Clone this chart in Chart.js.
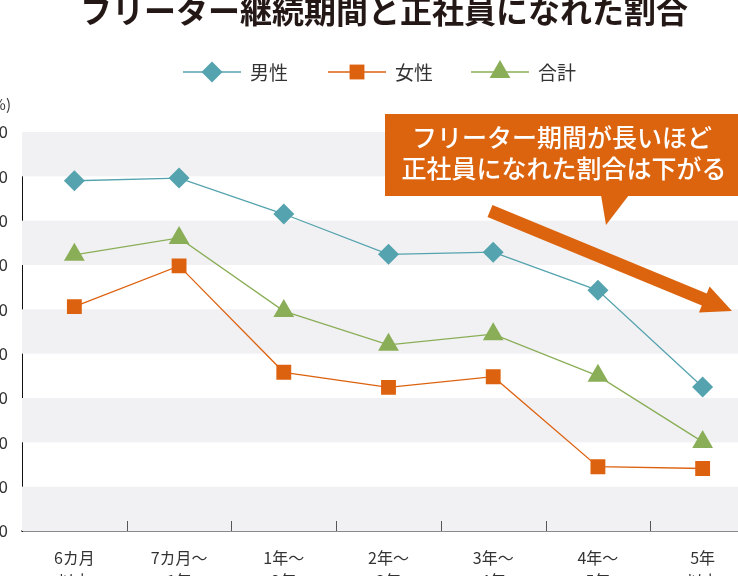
<!DOCTYPE html>
<html>
<head>
<meta charset="utf-8">
<script src="https://cdn.jsdelivr.net/npm/chart.js@4/dist/chart.umd.min.js"></script>
<style>
html, body { margin: 0; padding: 0; background: #fff; overflow: hidden; }
#wrap { position: absolute; left: 0; top: 0; width: 800px; height: 620px; }
</style>
</head>
<body>
<div id="wrap"><canvas id="myChart" width="800" height="620"></canvas></div>
<script>
// categories and values (%)
var periods = [['6カ月', '以内'], ['7カ月〜', '1年'], ['1年〜', '2年'], ['2年〜', '3年'], ['3年〜', '4年'], ['4年〜', '5年'], ['5年', '以上']];
var male = [79.0, 79.6, 71.5, 62.4, 62.9, 54.3, 32.5];
var female = [50.6, 59.8, 35.8, 32.4, 34.8, 14.5, 14.1];
var total = [62.3, 66.1, 49.6, 42.0, 44.4, 35.0, 20.1];
var yTicks = [0, 10, 20, 30, 40, 50, 60, 70, 80, 90];

var FONT = '"Noto Sans CJK JP", "Noto Sans", sans-serif';
var C_MALE = '#55a3ae', C_FEMALE = '#dd620f', C_TOTAL = '#8aae57', C_ORANGE = '#dc640f';

var decor = {
  id: 'decor',
  beforeDatasetsDraw: function(chart) {
    var ctx = chart.ctx, y = chart.scales.y, a = chart.chartArea;
    ctx.save();
    ctx.fillStyle = '#f1f1f3';
    for (var i = 0; i < yTicks.length - 1; i += 2) {
      var t = y.getPixelForValue(yTicks[i + 1]), b = y.getPixelForValue(yTicks[i]);
      ctx.fillRect(a.left, t, a.right - a.left, b - t);
    }
    // tick marks between categories
    var x = chart.scales.x;
    ctx.strokeStyle = '#555';
    ctx.lineWidth = 1;
    for (var j = 0; j < periods.length - 1; j++) {
      var px = Math.round((x.getPixelForValue(j) + x.getPixelForValue(j + 1)) / 2) + 0.5;
      ctx.beginPath();
      ctx.moveTo(px, a.bottom - 10);
      ctx.lineTo(px, a.bottom);
      ctx.stroke();
    }
    ctx.restore();
  },
  afterDraw: function(chart) {
    var ctx = chart.ctx;
    ctx.save();
    // title
    ctx.fillStyle = '#231815';
    ctx.font = 'bold 32px ' + FONT;
    ctx.textAlign = 'center';
    ctx.textBaseline = 'middle';
    ctx.fillText('フリーター継続期間と正社員になれた割合', 384, 11);
    // unit
    ctx.font = '15px ' + FONT;
    ctx.fillStyle = '#333';
    ctx.textAlign = 'right';
    ctx.fillText('(%)', 11, 104);
    // legend
    var items = [[183, 0], [328, 1], [471, 2]];
    ctx.textAlign = 'left';
    ctx.font = '19px ' + FONT;
    items.forEach(function(it) {
      var ds = chart.data.datasets[it[1]];
      var x0 = it[0], ly = 72;
      ctx.strokeStyle = ds.borderColor;
      ctx.lineWidth = 1.3;
      ctx.beginPath();
      ctx.moveTo(x0, ly);
      ctx.lineTo(x0 + 58, ly);
      ctx.stroke();
      ctx.fillStyle = ds.backgroundColor;
      Chart.helpers.drawPoint(ctx, {pointStyle: ds.pointStyle, radius: ds.pointRadius, rotation: 0, borderWidth: 0}, x0 + 29, ly);
      ctx.fillStyle = '#333';
      ctx.fillText(ds.label, x0 + 67, ly + 1);
    });
    // callout
    ctx.fillStyle = C_ORANGE;
    ctx.fillRect(385, 114, 400, 82);
    ctx.beginPath();
    ctx.moveTo(601, 195);
    ctx.lineTo(629, 195);
    ctx.lineTo(606, 225);
    ctx.closePath();
    ctx.fill();
    ctx.fillStyle = '#fff';
    ctx.font = '500 25px ' + FONT;
    ctx.textAlign = 'center';
    ctx.fillText('フリーター期間が長いほど', 562, 137);
    ctx.fillText('正社員になれた割合は下がる', 564, 168);
    // arrow
    var sx = 490, sy = 211, ex = 732, ey = 311;
    var ang = Math.atan2(ey - sy, ex - sx), hl = 30, hw = 14;
    var bx = ex - hl * Math.cos(ang), by = ey - hl * Math.sin(ang);
    ctx.strokeStyle = C_ORANGE;
    ctx.fillStyle = C_ORANGE;
    ctx.lineWidth = 13;
    ctx.beginPath();
    ctx.moveTo(sx, sy);
    ctx.lineTo(bx + 2 * Math.cos(ang), by + 2 * Math.sin(ang));
    ctx.stroke();
    ctx.beginPath();
    ctx.moveTo(ex, ey);
    ctx.lineTo(bx + hw * Math.sin(ang), by - hw * Math.cos(ang));
    ctx.lineTo(bx - hw * Math.sin(ang), by + hw * Math.cos(ang));
    ctx.closePath();
    ctx.fill();
    ctx.restore();
  }
};

var ctx = document.getElementById('myChart').getContext('2d');
var chart = new Chart(ctx, {
  type: 'line',
  data: {
    labels: periods,
    datasets: [{
      label: '男性',
      data: male,
      borderColor: C_MALE,
      backgroundColor: C_MALE,
      borderWidth: 1.3,
      pointStyle: 'rectRot',
      pointRadius: 10.5,
      pointBorderWidth: 0
    }, {
      label: '女性',
      data: female,
      borderColor: C_FEMALE,
      backgroundColor: C_FEMALE,
      borderWidth: 1.3,
      pointStyle: 'rect',
      pointRadius: 10.5,
      pointBorderWidth: 0
    }, {
      label: '合計',
      data: total,
      borderColor: C_TOTAL,
      backgroundColor: C_TOTAL,
      borderWidth: 1.3,
      pointStyle: 'triangle',
      pointRadius: 12,
      pointBorderWidth: 0
    }]
  },
  options: {
    responsive: false,
    animation: false,
    layout: { padding: { top: 132, right: 45, bottom: 0, left: 0 } },
    plugins: { legend: { display: false }, title: { display: false }, tooltip: { enabled: false } },
    scales: {
      x: {
        offset: true,
        grid: { display: false, drawTicks: false },
        border: { display: true, color: '#8a8a8a', width: 2 },
        ticks: { color: '#333', padding: 15, font: { family: FONT, size: 16, lineHeight: 1.45 }, maxRotation: 0, autoSkip: false },
        afterFit: function(scale) { scale.height = 89; }
      },
      y: {
        min: 0,
        max: 90,
        afterBuildTicks: function(scale) { scale.ticks = yTicks.map(function(v) { return { value: v }; }); },
        grid: { display: false, drawTicks: false },
        border: { display: true, color: '#111', width: 1 },
        ticks: { color: '#333', padding: 14, font: { family: FONT, size: 17 } },
        afterFit: function(scale) { scale.width = 22; }
      }
    }
  },
  plugins: [decor]
});
</script>
</body>
</html>
